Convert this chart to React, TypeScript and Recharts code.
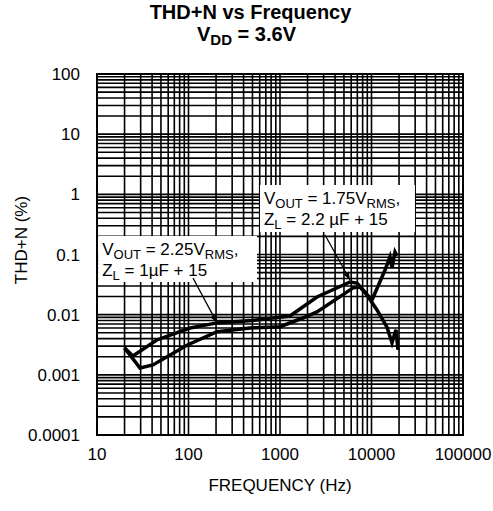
import {
  LineChart,
  Line,
  XAxis,
  YAxis,
  CartesianGrid,
  ReferenceArea,
  ReferenceLine,
  Label,
} from "recharts";

// decade labels
const xDecades = [10, 100, 1000, 10000, 100000];
const yDecades = [0.0001, 0.001, 0.01, 0.1, 1, 10, 100];
const minorSteps = [1, 2, 3, 4, 5, 6, 7, 8, 9];

// Vout = 2.25 Vrms, ZL = 1uF + 15
const freqA = [20, 24.7, 45, 104, 205, 500, 838, 1285, 2535, 5820, 6950, 8490, 11480, 14760, 16750, 17620, 18530, 19480];
const thdA = [0.0028, 0.00206, 0.0038, 0.006, 0.0073, 0.008, 0.0088, 0.0095, 0.0197, 0.0349, 0.0335, 0.0238, 0.012, 0.0062, 0.0034, 0.0044, 0.0056, 0.0026];

// Vout = 1.75 Vrms, ZL = 2.2uF + 15
const freqB = [20, 29.5, 40.9, 96, 205, 470, 1000, 1782, 2535, 6300, 7480, 10120, 14060, 15920, 16750, 18070, 19000];
const thdB = [0.0028, 0.0013, 0.00146, 0.0031, 0.0052, 0.006, 0.0063, 0.0088, 0.0111, 0.0279, 0.0288, 0.0175, 0.0553, 0.091, 0.06, 0.11, 0.095];

const seriesA = freqA.map((f, i) => ({ f, thd: thdA[i] }));
const seriesB = freqB.map((f, i) => ({ f, thd: thdB[i] }));

const xTicks = [
  ...xDecades.slice(0, -1).flatMap((d) => minorSteps.map((m) => d * m)),
  100000,
];
const yTicks = [
  ...yDecades.slice(0, -1).flatMap((d) => minorSteps.map((m) => +(d * m).toPrecision(3))),
  100,
];

const FONT = "'Liberation Sans', Arial, Helvetica, sans-serif";

function Arrow(props: any) {
  const { x1, y1, x2, y2 } = props;
  const ang = Math.atan2(y2 - y1, x2 - x1);
  const len = 8;
  const w = 3;
  const bx = x2 - len * Math.cos(ang);
  const by = y2 - len * Math.sin(ang);
  const pts = [
    [x2, y2],
    [bx + w * Math.sin(ang), by - w * Math.cos(ang)],
    [bx - w * Math.sin(ang), by + w * Math.cos(ang)],
  ]
    .map((p) => p.join(","))
    .join(" ");
  return (
    <g>
      <line x1={x1} y1={y1} x2={x2} y2={y2} stroke="#000" strokeWidth={1.3} />
      <polygon points={pts} fill="#000" />
    </g>
  );
}

function annoLabel(vout: string, zl: string) {
  return (props: any) => {
    const vb = props.viewBox;
    const x = vb.x + 4;
    return (
      <g fontFamily={FONT} fill="#000">
        <text x={x} y={vb.y + 19} fontSize={17}>
          V
          <tspan fontSize={13} dy={4}>OUT</tspan>
          <tspan dy={-4}>{` = ${vout}V`}</tspan>
          <tspan fontSize={13} dy={4}>RMS</tspan>
          <tspan dy={-4}>,</tspan>
        </text>
        <text x={x} y={vb.y + 40} fontSize={17}>
          Z
          <tspan fontSize={13} dy={4}>L</tspan>
          <tspan dy={-4}>{` = ${zl}`}</tspan>
        </text>
      </g>
    );
  };
}

export default function App() {
  return (
    <div style={{ position: "absolute", left: 0, top: 0, width: 493, height: 511, background: "#fff", fontFamily: FONT }}>
      <div style={{ position: "absolute", left: 0, width: 493, top: 1, textAlign: "center", fontWeight: "bold", fontSize: 20, lineHeight: "22px" }}>
        <div style={{ paddingLeft: 8 }}>THD+N vs Frequency</div>
        <div style={{ paddingLeft: 0 }}>
          V<sub style={{ fontSize: 15, verticalAlign: "-4px" }}>DD</sub> = 3.6V
        </div>
      </div>

      <div style={{ position: "absolute", left: 0, top: 0 }}>
        <LineChart width={493} height={511} margin={{ top: 74, right: 30, bottom: 36, left: 37 }}>
          <CartesianGrid stroke="#000" strokeWidth={1.6} strokeOpacity={1} />
          <XAxis
            type="number"
            dataKey="f"
            scale="log"
            domain={[10, 100000]}
            ticks={xTicks}
            interval={0}
            allowDataOverflow
            height={40}
            tickLine={false}
            tickSize={6}
            tickMargin={7}
            axisLine={{ stroke: "#000", strokeWidth: 2 }}
            tick={{ fill: "#000", fontSize: 17, fontFamily: FONT }}
            tickFormatter={(v: number) => (xDecades.includes(v) ? String(v) : "")}
          />
          <YAxis
            type="number"
            dataKey="thd"
            scale="log"
            domain={[0.0001, 100]}
            ticks={yTicks}
            interval={0}
            allowDataOverflow
            width={60}
            tickLine={false}
            tickSize={6}
            tickMargin={11}
            axisLine={{ stroke: "#000", strokeWidth: 2 }}
            tick={{ fill: "#000", fontSize: 17, fontFamily: FONT }}
            tickFormatter={(v: number) => (yDecades.includes(v) ? String(v) : "")}
          />
          <ReferenceArea x1={10} x2={100000} y1={0.0001} y2={100} fill="none" stroke="#000" strokeWidth={2} />
          <ReferenceArea x1={604} x2={29850} y1={0.237} y2={1.43} fill="#fff" fillOpacity={1} stroke="none">
            <Label content={annoLabel("1.75", "2.2 \u00b5F + 15")} />
          </ReferenceArea>
          <ReferenceArea x1={10.3} x2={561} y1={0.0349} y2={0.203} fill="#fff" fillOpacity={1} stroke="none">
            <Label content={annoLabel("2.25", "1\u00b5F + 15")} />
          </ReferenceArea>
          <Line data={seriesA} dataKey="thd" type="linear" stroke="#000" strokeWidth={3.5} dot={false} isAnimationActive={false} />
          <Line data={seriesB} dataKey="thd" type="linear" stroke="#000" strokeWidth={3.5} dot={false} isAnimationActive={false} />
          <ReferenceLine segment={[{ x: 112, y: 0.0407 }, { x: 205, y: 0.0073 }]} shape={Arrow} />
          <ReferenceLine segment={[{ x: 3105, y: 0.211 }, { x: 5820, y: 0.0377 }]} shape={Arrow} />
        </LineChart>
      </div>

      <div style={{ position: "absolute", left: 180, width: 200, top: 476, textAlign: "center", fontSize: 17 }}>
        FREQUENCY (Hz)
      </div>
      <div
        style={{
          position: "absolute",
          left: 22,
          top: 240,
          fontSize: 17,
          whiteSpace: "nowrap",
          transform: "translate(-50%, -50%) rotate(-90deg)",
        }}
      >
        THD+N (%)
      </div>
    </div>
  );
}
